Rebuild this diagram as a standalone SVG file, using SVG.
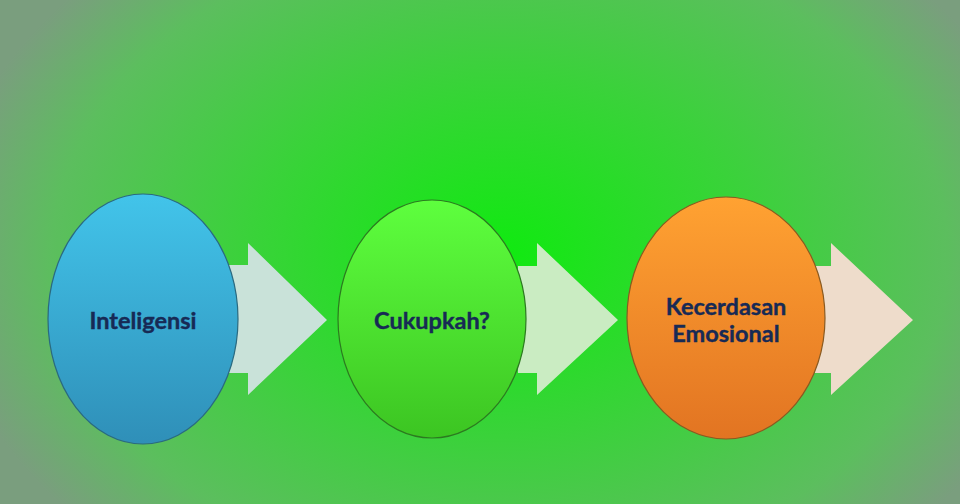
<svg xmlns="http://www.w3.org/2000/svg" width="960" height="504" viewBox="0 0 960 504">
<defs>
<radialGradient id="bg" cx="500" cy="255" r="560" gradientUnits="userSpaceOnUse" gradientTransform="translate(500 255) scale(1 0.72) translate(-500 -255)">
<stop offset="0" stop-color="#10ea10"/>
<stop offset="0.45" stop-color="#3ad23a"/>
<stop offset="0.8" stop-color="#5cbe5e"/>
<stop offset="1" stop-color="#7a9e7e"/>
</radialGradient>
<linearGradient id="g1" x1="0" y1="0" x2="0" y2="1">
<stop offset="0" stop-color="#42c4ea"/>
<stop offset="1" stop-color="#2f8fb8"/>
</linearGradient>
<linearGradient id="g2" x1="0" y1="0" x2="0" y2="1">
<stop offset="0" stop-color="#5eff3e"/>
<stop offset="1" stop-color="#3cc522"/>
</linearGradient>
<linearGradient id="g3" x1="0" y1="0" x2="0" y2="1">
<stop offset="0" stop-color="#ffa232"/>
<stop offset="1" stop-color="#e27422"/>
</linearGradient>
</defs>
<style>
.lbl{font-family:Lato,"Open Sans","Liberation Sans",sans-serif;font-weight:bold;font-size:23.5px;fill:#172a55;text-anchor:middle;dominant-baseline:central;stroke:#172a55;stroke-width:0.4}
.node ellipse{stroke-width:1.2}
</style>
<rect width="960" height="504" fill="url(#bg)"/>
<g id="connectors">
<polygon points="228,265 248,265 248,243 327,320 248,395 248,373 228,373" fill="#c9e2d9"/>
<polygon points="518,266 537,266 537,243 618,320 537,395 537,373 518,373" fill="#caecc2"/>
<polygon points="815,266 831,266 831,243 913,320 831,395 831,373 815,373" fill="#eedccb"/>
</g>
<g id="node1" class="node">
<ellipse cx="143" cy="319" rx="95" ry="125" fill="url(#g1)" stroke="#2a6a80"/>
<text class="lbl" x="143" y="320">Inteligensi</text>
</g>
<g id="node2" class="node">
<ellipse cx="432" cy="319" rx="94" ry="119" fill="url(#g2)" stroke="#2c7a20"/>
<text class="lbl" x="432" y="320">Cukupkah?</text>
</g>
<g id="node3" class="node">
<ellipse cx="726" cy="318" rx="99" ry="121" fill="url(#g3)" stroke="#8a5a20"/>
<text class="lbl" x="726" y="306">Kecerdasan</text>
<text class="lbl" x="726" y="333">Emosional</text>
</g>
</svg>
